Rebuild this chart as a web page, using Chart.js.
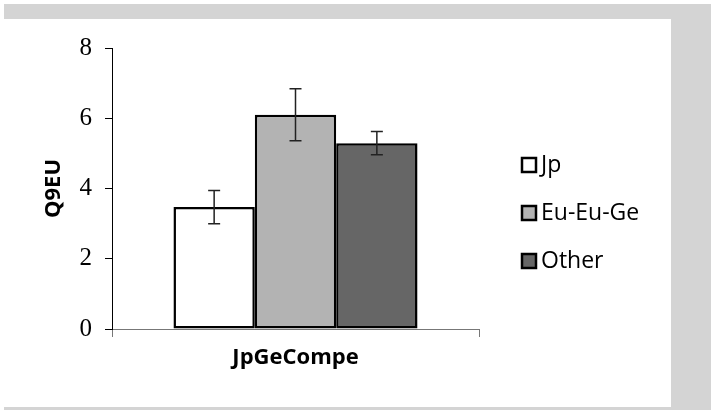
<!DOCTYPE html>
<html>
<head>
<meta charset="utf-8">
<script src="https://cdn.jsdelivr.net/npm/chart.js@4"></script>
<style>
  html, body { margin: 0; padding: 0; background: #fff; }
  #wrap { width: 711px; height: 410px; position: relative; }
</style>
</head>
<body>
<div id="wrap"><canvas id="grafico"></canvas></div>
<script>
const categorias = ['JpGeCompe'];
const series = ['Jp', 'Eu-Eu-Ge', 'Other'];
const medias = [3.47, 6.10, 5.29];
const errores = [0.47, 0.74, 0.33];
const rellenos = ['#ffffff', '#b3b3b3', '#666666'];
const ticksY = [0, 2, 4, 6, 8];

// marco gris alrededor de la figura
const marco = {
    id: 'marco',
    beforeDraw(chart) {
        const ctx = chart.ctx;
        ctx.save();
        ctx.fillStyle = '#ffffff';
        ctx.fillRect(0, 0, chart.width, chart.height);
        ctx.fillStyle = '#d4d4d4';
        ctx.fillRect(4, 4, chart.width - 4, 15);
        ctx.fillRect(671, 4, chart.width - 671, chart.height - 4);
        ctx.fillRect(4, 407, chart.width - 4, 3);
        ctx.restore();
    }
};

// barras de error
const barrasError = {
    id: 'barrasError',
    afterDatasetsDraw(chart) {
        const ctx = chart.ctx;
        const y = chart.scales.y;
        ctx.save();
        ctx.strokeStyle = '#222';
        ctx.lineWidth = 1.5;
        chart.data.datasets.forEach((ds, i) => {
            const bar = chart.getDatasetMeta(i).data[0];
            const yAlto = y.getPixelForValue(medias[i] + errores[i]);
            const yBajo = y.getPixelForValue(medias[i] - errores[i]);
            ctx.beginPath();
            ctx.moveTo(bar.x, yAlto); ctx.lineTo(bar.x, yBajo);
            ctx.moveTo(bar.x - 6, yAlto); ctx.lineTo(bar.x + 6, yAlto);
            ctx.moveTo(bar.x - 6, yBajo); ctx.lineTo(bar.x + 6, yBajo);
            ctx.stroke();
        });
        ctx.restore();
    }
};

// leyenda a la derecha
const leyenda = {
    id: 'leyenda',
    afterDraw(chart) {
        const ctx = chart.ctx;
        ctx.save();
        ctx.font = '23px "Open Sans"';
        ctx.textBaseline = 'middle';
        chart.data.datasets.forEach((ds, i) => {
            const cy = 165 + i * 48;
            ctx.fillStyle = ds.backgroundColor;
            ctx.fillRect(522, cy - 7, 14, 14);
            ctx.strokeStyle = '#000';
            ctx.lineWidth = 2.5;
            ctx.strokeRect(522, cy - 7, 14, 14);
            ctx.fillStyle = '#000';
            ctx.fillText(ds.label, 541, cy);
        });
        ctx.restore();
    }
};

new Chart(document.getElementById('grafico'), {
    type: 'bar',
    data: {
        labels: categorias,
        datasets: series.map((nombre, i) => ({
            label: nombre,
            data: [medias[i]],
            backgroundColor: rellenos[i],
            borderColor: '#000',
            borderWidth: 2.5,
            borderSkipped: false,
            barPercentage: 1,
            categoryPercentage: 0.665
        }))
    },
    options: {
        responsive: true,
        maintainAspectRatio: false,
        animation: false,
        layout: { padding: { left: 0, top: 48, right: 232, bottom: 0 } },
        plugins: {
            legend: { display: false },
            tooltip: { enabled: false }
        },
        scales: {
            x: {
                grid: { display: true, drawOnChartArea: false, tickLength: 8, color: '#777', offset: true },
                border: { color: '#777', width: 1 },
                ticks: { color: '#000', font: { family: 'Open Sans', size: 22, weight: 'bold' }, padding: 8 },
                afterFit(scale) { scale.height = 81; }
            },
            y: {
                min: 0,
                max: 8,
                afterBuildTicks(scale) { scale.ticks = ticksY.map(v => ({ value: v })); },
                grid: { drawOnChartArea: false, tickLength: 7, color: '#000' },
                border: { color: '#000', width: 1 },
                ticks: { color: '#000', font: { family: 'Liberation Serif', size: 25 }, padding: 13 },
                title: {
                    display: true,
                    text: 'Q9EU',
                    color: '#000',
                    font: { family: 'Open Sans', size: 22, weight: 'bold' },
                    padding: { top: 41, bottom: 0 }
                },
                afterFit(scale) { scale.width = 112; }
            }
        }
    },
    plugins: [marco, barrasError, leyenda]
});
</script>
</body>
</html>
